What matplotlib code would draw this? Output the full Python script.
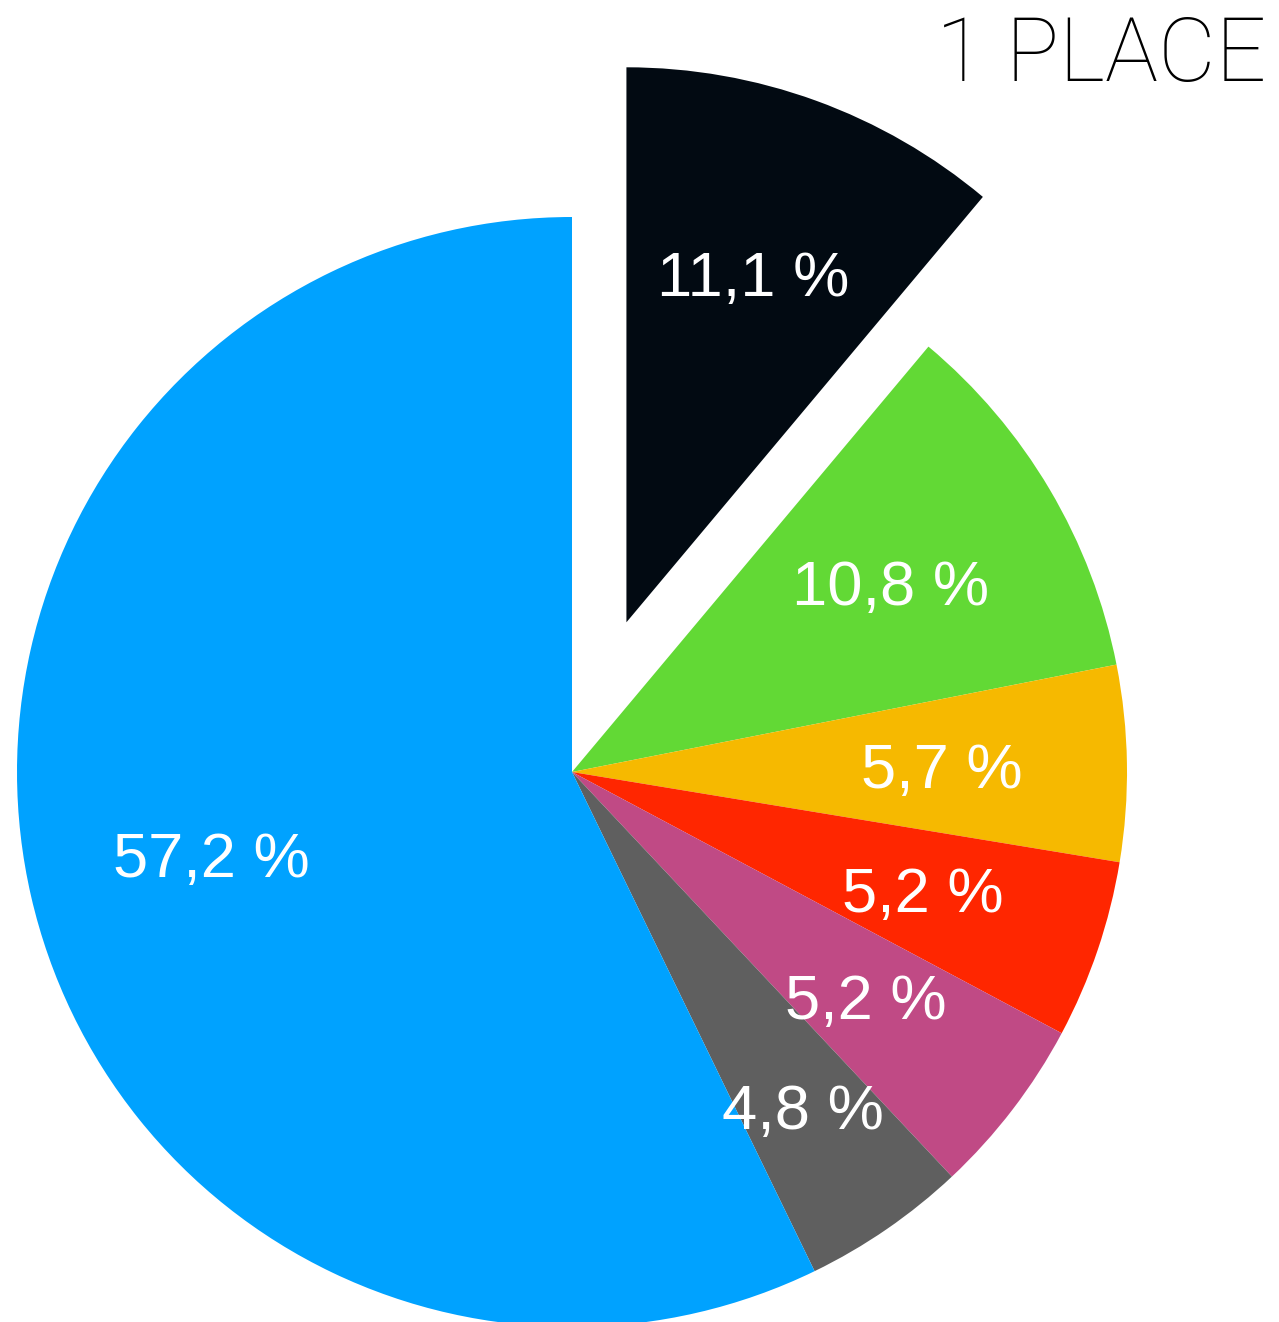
import matplotlib.pyplot as plt

# data (clockwise from the top)
shares = [11.1, 10.8, 5.7, 5.2, 5.2, 4.8, 57.2]
share_labels = ["11,1 %", "10,8 %", "5,7 %", "5,2 %", "5,2 %", "4,8 %", "57,2 %"]
colors = ["#020a12", "#62d935", "#f6b900", "#ff2600", "#c04a85", "#5f5f5f", "#00a2ff"]
title = "1 PLACE"

R = 555
# explode is in data units when radius != 1
explode = [0.287 * R, 0, 0, 0, 0, 0, 0]

fig = plt.figure(figsize=(12.79, 13.22), dpi=100)
ax = fig.add_axes([0, 0, 1, 1])

wedges, texts, autotexts = ax.pie(
    shares, colors=colors, explode=explode, startangle=90, counterclock=False,
    center=(572, 550), radius=R, autopct="%1.1f", pctdistance=0.667,
    wedgeprops=dict(linewidth=0), frame=True,
)
ax.axis("off")
ax.set_xlim(0, 1279)
ax.set_ylim(0, 1322)
ax.set_aspect("equal")

for t, lab in zip(autotexts, share_labels):
    t.set_text(lab)
    t.set_color("white")
    t.set_fontsize(45.5)
    t.set_family(["Liberation Sans", "DejaVu Sans"])
    x, y = t.get_position()
    t.set_position((x, y - 5))  # centre on the digits, not the descender box

# gray label sits a little further out
x, y = autotexts[5].get_position()
autotexts[5].set_position((572 + (x - 572) * 1.1, 550 + (y - 550) * 1.1))

fig.text(0.99, 0.957, title, ha="right", va="center", fontsize=64,
         fontweight="light", family=["Roboto", "DejaVu Sans"], color="black")

fig.savefig("out.png", dpi=100)
